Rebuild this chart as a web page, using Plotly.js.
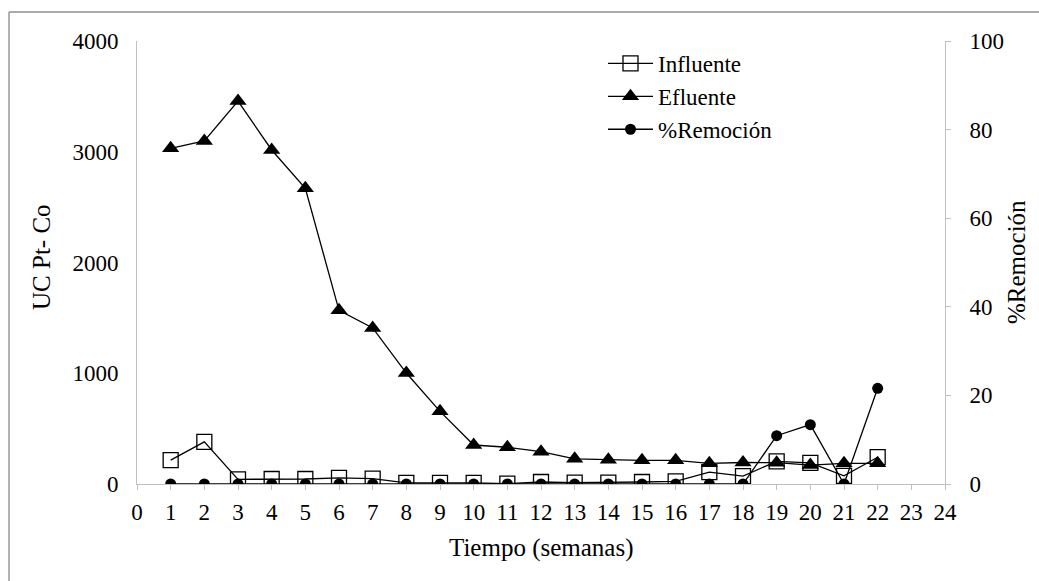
<!DOCTYPE html>
<html>
<head>
<meta charset="utf-8">
<script src="https://cdn.plot.ly/plotly-3.0.1.min.js"></script>
<style>
html,body{margin:0;padding:0;background:#fff;}
#chart{width:1039px;height:581px;}
</style>
</head>
<body>
<div id="chart"></div>
<script>
// ---- data ----
var semanas = [1,2,3,4,5,6,7,8,9,10,11,12,13,14,15,16,17,18,19,20,21,22];
var influente = [215,380,42,45,45,56,48,10,10,10,3,18,12,12,18,24,108,72,205,191,74,242];
var efluente = [3031,3097,3458,3016,2670,1568,1409,1002,656,352,332,292,227,220,214,214,187,194,193,171,187,187];
var remocion = [0,0,0,0,0,0,0,0,0,0,0,0,0,0,0,0,0,0,10.9,13.4,0,21.6];
var xTicks = [0,1,2,3,4,5,6,7,8,9,10,11,12,13,14,15,16,17,18,19,20,21,22,23,24];
var names = ["Influente","Efluente","%Remoción"];

// ---- layout geometry ----
var W = 1039, H = 581;
var M = {l:137, r:94, t:41, b:97};
var pw = W - M.l - M.r, ph = H - M.t - M.b;
function px(x){ return (x - M.l)/pw; }
function py(y){ return (H - M.b - y)/ph; }

var FONT = "Liberation Serif";
var axisGray = "#c0c0c0";
var TICK = 23, TITLE = 25;

var traces = [
  {x: semanas, y: influente, name: names[0], legendgroup: "a", mode: "lines+markers", yaxis: "y",
   line: {color: "#000", width: 1.3},
   marker: {symbol: "square-open", size: 15, color: "#000", line: {color: "#000", width: 1.3}}},
  {x: semanas, y: efluente, name: names[1], legendgroup: "b", mode: "lines+markers", yaxis: "y",
   line: {color: "#000", width: 1.3},
   marker: {symbol: "triangle-up", size: 15, color: "#000"}},
  {x: semanas, y: remocion, name: names[2], legendgroup: "c", mode: "lines+markers", yaxis: "y2",
   line: {color: "#000", width: 1.3},
   marker: {symbol: "circle", size: 11, color: "#000"}}
];

var layout = {
  width: W, height: H,
  margin: M,
  paper_bgcolor: "#fff", plot_bgcolor: "#fff",
  font: {family: FONT, size: TICK, color: "#000"},
  showlegend: true,
  legend: {x: px(603), xanchor: "left", y: py(42), yanchor: "top", tracegroupgap: 0,
           bgcolor: "rgba(0,0,0,0)", itemwidth: 45, font: {family: FONT, size: TICK, color: "#000"}},
  xaxis: {range: [0, 24], tickmode: "array", tickvals: xTicks, ticktext: xTicks.map(String),
          showgrid: false, zeroline: false, showline: true, linecolor: axisGray, linewidth: 1,
          ticks: "outside", ticklen: 5, tickcolor: axisGray, ticklabelstandoff: 2,
          tickfont: {family: FONT, size: TICK, color: "#000"}},
  yaxis: {range: [0, 4000], tickvals: [0,1000,2000,3000,4000], showgrid: false, zeroline: false,
          showline: true, linecolor: axisGray, linewidth: 1, ticks: "", ticklabelstandoff: 13,
          tickfont: {family: FONT, size: TICK, color: "#000"}},
  yaxis2: {range: [0, 100], tickvals: [0,20,40,60,80,100], overlaying: "y", side: "right",
           showgrid: false, zeroline: false, showline: true, linecolor: axisGray, linewidth: 1,
           ticks: "outside", ticklen: 5, tickcolor: axisGray, ticklabelstandoff: 14,
           tickfont: {family: FONT, size: TICK, color: "#000"}},
  annotations: [
    {text: "UC Pt- Co", xref: "paper", yref: "paper", x: px(41), y: py(257), textangle: -90,
     showarrow: false, xanchor: "center", yanchor: "middle", font: {family: FONT, size: TITLE, color: "#000"}},
    {text: "%Remoción", xref: "paper", yref: "paper", x: px(1016), y: py(262), textangle: -90,
     showarrow: false, xanchor: "center", yanchor: "middle", font: {family: FONT, size: TITLE, color: "#000"}},
    {text: "Tiempo (semanas)", xref: "paper", yref: "paper", x: px(541), y: py(548),
     showarrow: false, xanchor: "center", yanchor: "middle", font: {family: FONT, size: TITLE, color: "#000"}}
  ],
  shapes: [
    {type: "line", xref: "paper", yref: "paper", x0: px(9), x1: px(1045), y0: py(12), y1: py(12),
     line: {color: "#595959", width: 1.2}},
    {type: "line", xref: "paper", yref: "paper", x0: px(9), x1: px(9), y0: py(12), y1: py(590),
     line: {color: "#7f7f7f", width: 1.2}}
  ]
};

Plotly.newPlot("chart", traces, layout, {displayModeBar: false, staticPlot: true});
</script>
</body>
</html>
